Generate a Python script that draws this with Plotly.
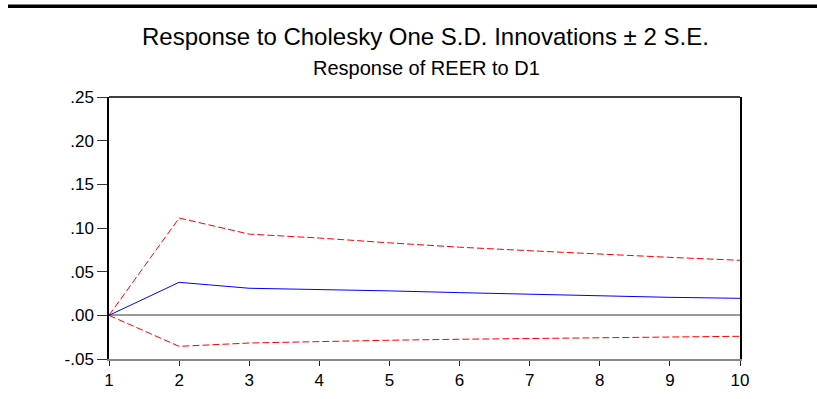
import plotly.graph_objects as go

periods = [1, 2, 3, 4, 5, 6, 7, 8, 9, 10]
response = [0.0, 0.0378, 0.031, 0.0298, 0.028, 0.026, 0.024, 0.022, 0.0206, 0.0195]
upper_band = [0.0, 0.1114, 0.093, 0.0885, 0.083, 0.078, 0.074, 0.070, 0.0664, 0.063]
lower_band = [0.0, -0.0355, -0.0317, -0.0298, -0.0285, -0.0274, -0.0264, -0.0256, -0.0248, -0.024]

y_tickvals = [-0.05, 0.0, 0.05, 0.10, 0.15, 0.20, 0.25]
y_ticktext = ["-.05", ".00", ".05", ".10", ".15", ".20", ".25"]

main_title = "Response to Cholesky One S.D. Innovations \u00b1 2 S.E."
sub_title = "Response of REER to D1"

W, H = 817, 399
L, R, T, B = 109, 740, 97, 359


def px(x):
    return (x - L) / (R - L)


def py(y):
    return (B - y) / (B - T)


FONT = "Liberation Sans, Arial, sans-serif"

fig = go.Figure()
fig.add_trace(go.Scatter(x=periods, y=upper_band, mode="lines",
                         line=dict(color="#ff0000", width=1, dash="7px,3px"),
                         showlegend=False))
fig.add_trace(go.Scatter(x=periods, y=lower_band, mode="lines",
                         line=dict(color="#ff0000", width=1, dash="7px,3px"),
                         showlegend=False))
fig.add_trace(go.Scatter(x=periods, y=response, mode="lines",
                         line=dict(color="#0000ff", width=1),
                         showlegend=False))

fig.update_layout(
    width=W, height=H,
    margin=dict(l=L, r=W - R, t=T, b=H - B, pad=0, autoexpand=False),
    paper_bgcolor="white", plot_bgcolor="white",
    font=dict(family=FONT, color="black"),
    xaxis=dict(range=[1, 10], tickvals=periods, ticktext=[str(p) for p in periods],
               automargin=False,
               showgrid=False, zeroline=False, showline=True, linecolor="#888888",
               linewidth=1.5, ticks="outside", ticklen=5, tickcolor="#222222",
               tickfont=dict(size=17, family=FONT, color="black")),
    yaxis=dict(range=[-0.05, 0.25], tickvals=y_tickvals, ticktext=y_ticktext,
               automargin=False,
               showgrid=False, zeroline=True, zerolinecolor="#999999", zerolinewidth=1.5,
               showline=True, linecolor="black", linewidth=1.5, mirror=True,
               ticks="outside", ticklen=10, tickcolor="#333333",
               tickfont=dict(size=17, family=FONT, color="black")),
    shapes=[
        dict(type="line", xref="paper", yref="paper", x0=0, x1=1, y0=1, y1=1,
             line=dict(color="black", width=1.5)),
        dict(type="rect", xref="paper", yref="paper", x0=px(8), x1=px(817),
             y0=py(8), y1=py(4.5), fillcolor="black", line=dict(width=0)),
    ],
    annotations=[
        dict(text=main_title, xref="paper", yref="paper", x=px(425), y=py(36.5),
             xanchor="center", yanchor="middle", showarrow=False,
             font=dict(size=24, family=FONT, color="black")),
        dict(text=sub_title, xref="paper", yref="paper", x=px(426), y=py(68),
             xanchor="center", yanchor="middle", showarrow=False,
             font=dict(size=20, family=FONT, color="black")),
    ],
)

fig.write_html("out.html")
